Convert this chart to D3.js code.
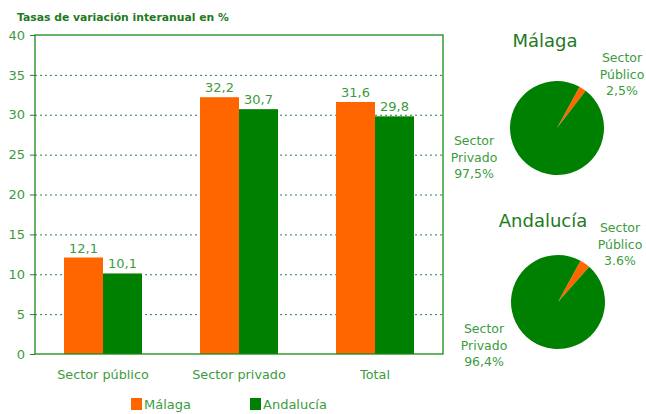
<!DOCTYPE html>
<html>
<head>
<meta charset="utf-8">
<script src="https://cdn.jsdelivr.net/npm/d3@7"></script>
<style>
  body { margin: 0; background: #fff; }
  text { font-family: "DejaVu Sans", Verdana, sans-serif; }
</style>
</head>
<body>
<div id="chart"></div>
<script>
// data
var categories = ["Sector público", "Sector privado", "Total"];
var series = ["Málaga", "Andalucía"];
var malaga = [12.1, 32.2, 31.6];
var andalucia = [10.1, 30.7, 29.8];
var valueLabels = [["12,1", "10,1"], ["32,2", "30,7"], ["31,6", "29,8"]];
var yTicks = [0, 5, 10, 15, 20, 25, 30, 35, 40];

var pieNames = ["Málaga", "Andalucía"];
var pieMalaga = [2.5, 97.5];
var pieAndalucia = [3.6, 96.4];
var pieLabelsMalaga = [["Sector", "Público", "2,5%"], ["Sector", "Privado", "97,5%"]];
var pieLabelsAndalucia = [["Sector", "Público", "3.6%"], ["Sector", "Privado", "96,4%"]];

var colors = ["#ff6600", "#008000"];
var textGreen = "#3d9b3d";
var darkGreen = "#1e7a1e";

var margin = {top: 35, right: 203, bottom: 60, left: 35},
    width = 646 - margin.left - margin.right,
    height = 414 - margin.top - margin.bottom;

var svg = d3.select("#chart").append("svg")
    .attr("width", 646)
    .attr("height", 414);

svg.append("text")
    .attr("x", 17).attr("y", 21)
    .attr("font-size", "10.8px").attr("font-weight", "bold")
    .attr("fill", darkGreen)
    .text("Tasas de variación interanual en %");

var g = svg.append("g")
    .attr("transform", "translate(" + margin.left + "," + margin.top + ")");

var x = d3.scaleBand().domain(categories).range([0, width]);
var xs = d3.scaleBand().domain(series).range([0, 78]);
var y = d3.scaleLinear().domain([0, 40]).range([height, 0]);

// grid lines
g.append("g").selectAll("line")
    .data(yTicks.filter(function(d) { return d > 0 && d < 40; }))
    .enter().append("line")
    .attr("x1", 0).attr("x2", width)
    .attr("y1", function(d) { return y(d) + 0.5; })
    .attr("y2", function(d) { return y(d) + 0.5; })
    .attr("stroke", "#2e7d5a")
    .attr("stroke-dasharray", "2,3");

// bars
var rows = categories.map(function(c, i) { return {cat: c, vals: [malaga[i], andalucia[i]], labels: valueLabels[i]}; });
var grp = g.selectAll(".cat").data(rows).enter().append("g")
    .attr("transform", function(d) { return "translate(" + (x(d.cat) + x.bandwidth() / 2 - 39) + ",0)"; });

grp.selectAll("rect")
    .data(function(d) { return d.vals.map(function(v, j) { return {s: series[j], v: v, j: j}; }); })
    .enter().append("rect")
    .attr("x", function(d) { return xs(d.s); })
    .attr("width", xs.bandwidth())
    .attr("y", function(d) { return y(d.v); })
    .attr("height", function(d) { return height - y(d.v); })
    .attr("fill", function(d) { return colors[d.j]; });

grp.selectAll(".vl")
    .data(function(d) { return d.vals.map(function(v, j) { return {s: series[j], v: v, t: d.labels[j]}; }); })
    .enter().append("text")
    .attr("x", function(d) { return xs(d.s) + xs.bandwidth() / 2; })
    .attr("y", function(d) { return y(d.v) - 5; })
    .attr("text-anchor", "middle")
    .attr("font-size", "13px")
    .attr("fill", textGreen)
    .text(function(d) { return d.t; });

// frame
g.append("rect")
    .attr("x", 0).attr("y", 0).attr("width", width).attr("height", height)
    .attr("fill", "none").attr("stroke", "#1a8a1a").attr("stroke-width", 1.3);

// y axis
var yAxis = g.append("g")
    .call(d3.axisLeft(y).tickValues(yTicks).tickSize(5).tickPadding(5));
yAxis.select(".domain").remove();
yAxis.selectAll("line").attr("stroke", "#1a8a1a");
yAxis.selectAll("text").attr("font-size", "13px").attr("fill", textGreen)
    .style("font-family", "DejaVu Sans");

// x axis
var xAxis = g.append("g")
    .attr("transform", "translate(0," + height + ")")
    .call(d3.axisBottom(x).tickSize(0).tickPadding(16));
xAxis.select(".domain").remove();
xAxis.selectAll("text").attr("font-size", "12.8px").attr("fill", textGreen)
    .style("font-family", "DejaVu Sans");

// legend
var legend = svg.append("g").selectAll("g").data(series).enter().append("g")
    .attr("transform", function(d, i) { return "translate(" + (131 + i * 119) + ",398)"; });
legend.append("rect").attr("width", 11).attr("height", 12)
    .attr("fill", function(d, i) { return colors[i]; });
legend.append("text").attr("x", 13).attr("y", 11)
    .attr("font-size", "13px").attr("fill", textGreen)
    .text(function(d) { return d; });

// pies
var pie = d3.pie().sort(null).startAngle(0.5).endAngle(0.5 + 2 * Math.PI);
var arc = d3.arc().innerRadius(0).outerRadius(47);

var pies = [
  {name: pieNames[0], vals: pieMalaga, labels: pieLabelsMalaga, cx: 557, cy: 128, tx: 545, ty: 47,
   lab: [[622, 62], [474, 145]]},
  {name: pieNames[1], vals: pieAndalucia, labels: pieLabelsAndalucia, cx: 558, cy: 302, tx: 543, ty: 227,
   lab: [[620, 232], [484, 333]]}
];

pies.forEach(function(p) {
  var pg = svg.append("g").attr("transform", "translate(" + p.cx + "," + p.cy + ")");
  pg.selectAll("path").data(pie(p.vals)).enter().append("path")
    .attr("d", arc)
    .attr("fill", function(d, i) { return colors[i]; });

  svg.append("text")
    .attr("x", p.tx).attr("y", p.ty)
    .attr("text-anchor", "middle")
    .attr("font-size", "18px")
    .attr("fill", darkGreen)
    .text(p.name);

  p.labels.forEach(function(lines, k) {
    var t = svg.append("text")
      .attr("x", p.lab[k][0]).attr("y", p.lab[k][1])
      .attr("text-anchor", "middle")
      .attr("font-size", "12.5px")
      .attr("fill", textGreen);
    lines.forEach(function(l, li) {
      t.append("tspan").attr("x", p.lab[k][0]).attr("dy", li === 0 ? 0 : 16.5).text(l);
    });
  });
});
</script>
</body>
</html>
